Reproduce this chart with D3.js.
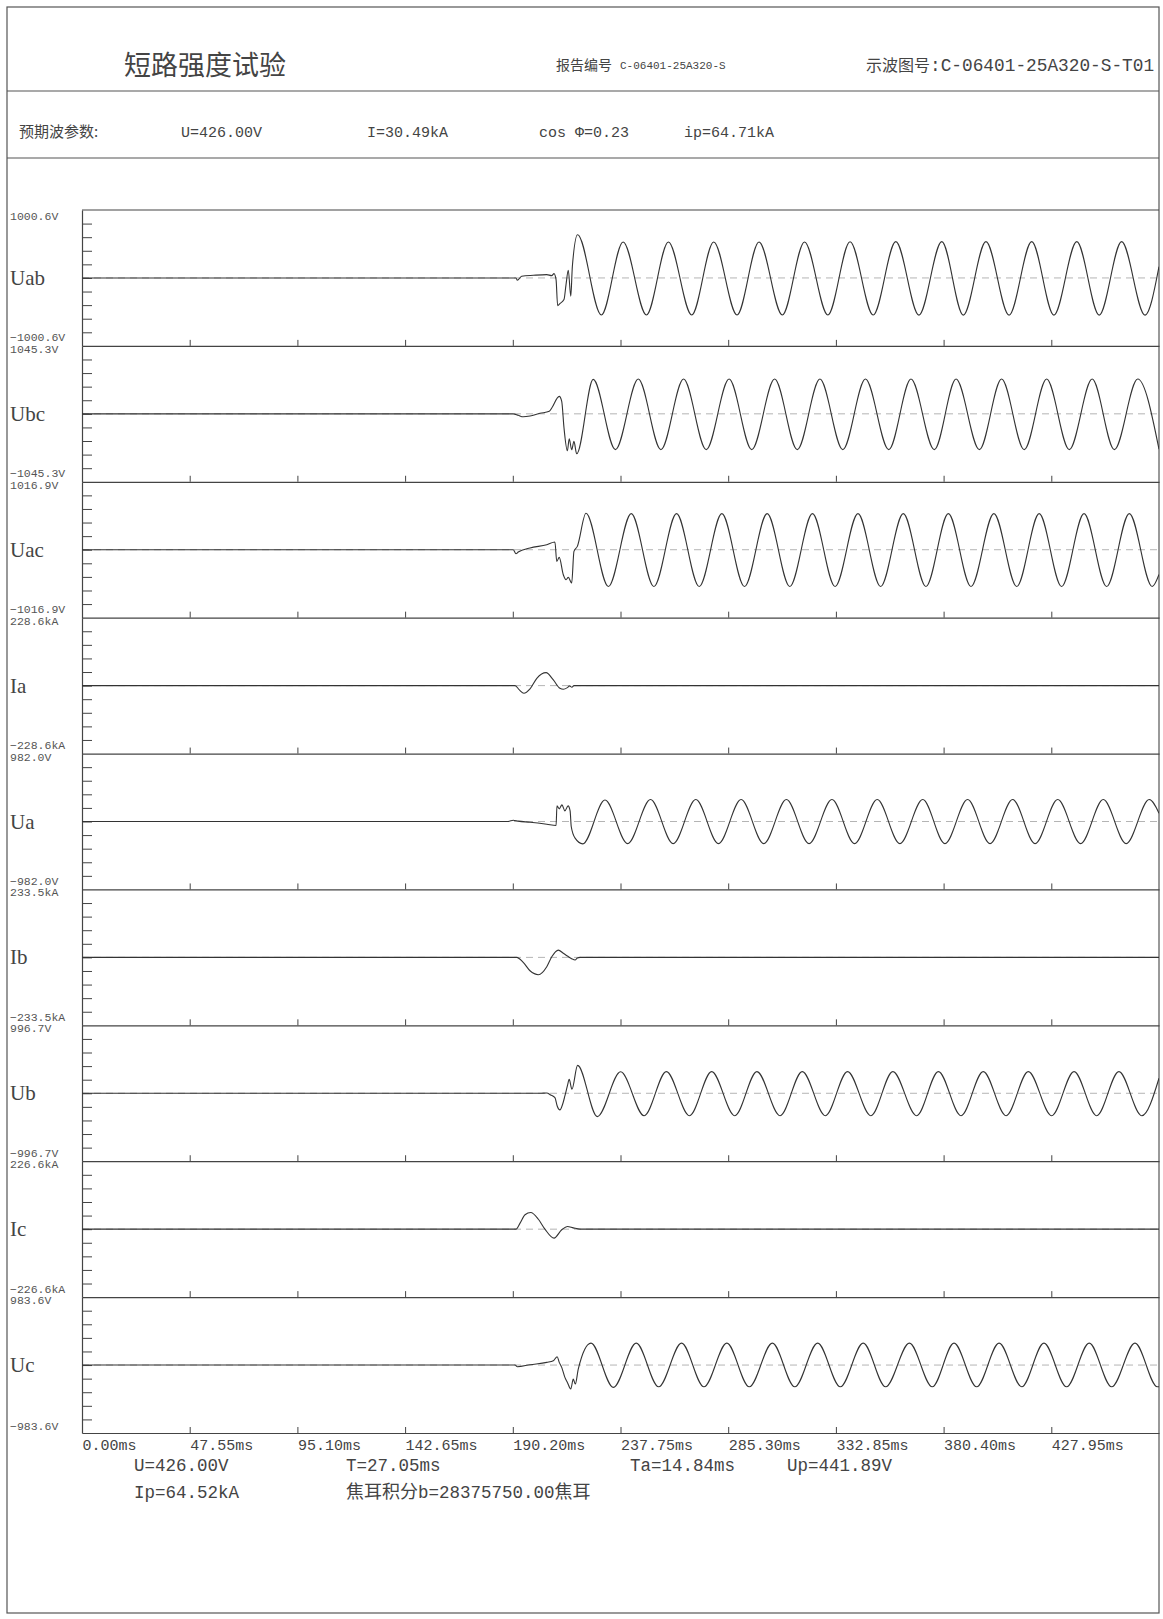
<!DOCTYPE html>
<html>
<head>
<meta charset="utf-8">
<title>短路强度试验</title>
<script src="https://cdn.jsdelivr.net/npm/d3@7"></script>
<style>
  body { margin: 0; background: #fff; }
  svg { display: block; }
  .mono { font-family: "Liberation Mono", "Noto Sans CJK SC", monospace; }
  .cjk { font-family: "Noto Sans CJK SC", sans-serif; }
  .serif { font-family: "Liberation Serif", "DejaVu Serif", serif; }
</style>
</head>
<body>
<div id="chart"></div>
<script>
// Constants
const WIDTH = 1163;
const HEIGHT = 1619;
const FRAME = { LEFT: 7, RIGHT: 1159, TOP: 7, BOTTOM: 1613 };
const PLOT = { LEFT: 82, RIGHT: 1159, TOP: 210, BOTTOM: 1433 };
const INK = '#444';
const TRACE = '#333';

// Header text
const TITLE = '短路强度试验';
const REPORT_LABEL = '报告编号';
const REPORT_NO = 'C-06401-25A320-S';
const WAVE_LABEL = '示波图号';
const WAVE_NO = ':C-06401-25A320-S-T01';
const PROSPECTIVE_LABEL = '预期波参数:';
const PROSPECTIVE = ['U=426.00V', 'I=30.49kA', 'cos Φ=0.23', 'ip=64.71kA'];
const RESULTS_ROW1 = ['U=426.00V', 'T=27.05ms', 'Ta=14.84ms', 'Up=441.89V'];
const RESULTS_ROW2 = ['Ip=64.52kA', '焦耳积分b=28375750.00焦耳'];

// Channels
const CHANNELS = ['Uab', 'Ubc', 'Uac', 'Ia', 'Ua', 'Ib', 'Ub', 'Ic', 'Uc'];
const FULL_SCALE = [1000.6, 1045.3, 1016.9, 228.6, 982.0, 233.5, 996.7, 226.6, 983.6];
const UNITS = ['V', 'V', 'V', 'kA', 'V', 'kA', 'V', 'kA', 'V'];
const TIME_TICKS = [0, 47.55, 95.10, 142.65, 190.20, 237.75, 285.30, 332.85, 380.40, 427.95];
const TIME_END = 475.5;
const GRID_FRACTIONS = [-0.8, -0.6, -0.4, -0.2, 0, 0.2, 0.4, 0.6, 0.8];

// Traces: [ms, value]
const uab = [
  [0, 0], [191.6, 0], [192.2, -34], [194.1, 25], [199.3, 39], [205.2, 49], [207.4, 34], [208.4, 64],
  [209.3, -25], [210.0, -407], [211.0, -377], [212.8, -319], [213.7, -98], [214.7, 113], [215.8, -269],
  [216.5, 172], [218.8, 637], [229.3, -545], [238.9, 530], [249.2, -545], [258.9, 530], [269.2, -545],
  [278.9, 530], [289.2, -545], [298.9, 530], [309.2, -545], [319.0, 530], [329.3, -545], [339.1, 532],
  [349.3, -545], [359.3, 535], [369.5, -548], [379.6, 535], [389.1, -548], [399.1, 535], [409.3, -548],
  [419.3, 535], [429.1, -548], [439.2, 535], [449.1, -548], [459.0, 535], [469.3, -548], [475.5, 166]
];
const ubc = [
  [0, 0], [190.4, 0], [192.6, -23], [194.8, -46], [197.8, -34], [202.2, 8], [206.3, 38], [207.4, 90],
  [210.7, 269], [211.8, 192], [212.8, -215], [214.3, -569], [215.1, -384], [216.2, -553], [217.2, -423],
  [218.4, -615], [225.7, 530], [235.5, -550], [245.6, 535], [255.6, -550], [265.6, 535], [275.6, -550],
  [285.7, 535], [295.7, -550], [305.8, 535], [315.8, -550], [325.8, 535], [335.9, -550], [345.9, 535],
  [356.2, -550], [366.0, 535], [376.3, -550], [385.9, 535], [396.2, -550], [406.0, 535], [416.0, -550],
  [425.9, 535], [435.9, -550], [446.0, 535], [455.8, -550], [466.1, 535], [475.5, -545]
];
const uac = [
  [0, 0], [190.4, 0], [191.6, -60], [192.6, -35], [197.8, 25], [205.2, 75], [208.8, 115], [209.6, -175],
  [210.7, -115], [212.5, -374], [213.7, -449], [214.7, -414], [216.2, -498], [217.2, -25], [218.7, 50],
  [222.5, 545], [232.4, -550], [242.5, 540], [252.5, -550], [262.5, 540], [272.5, -550], [282.5, 540],
  [292.5, -550], [302.5, 540], [312.5, -550], [322.5, 540], [332.5, -550], [342.6, 540], [352.6, -550],
  [362.6, 540], [372.6, -550], [382.5, 540], [392.5, -550], [402.6, 540], [412.7, -550], [422.6, 540],
  [432.5, -550], [442.4, 540], [452.4, -550], [462.4, 540], [472.5, -550], [475.5, -370]
];
const ia = [
  [0, 0], [191.2, 0], [193.1, -14.6], [195.1, -25.8], [197.8, -11], [200.8, 24.6], [204.9, 43.7],
  [208.1, 19], [211.0, -9], [212.5, -12.3], [214.3, -6.7], [215.3, -1], [216.3, -5.6], [217.2, 0],
  [475.5, 0]
];
const ua = [
  [0, 0], [188.2, 0], [190.4, 19], [192.6, 5], [197.8, -10], [205.2, -39], [209.3, -58], [209.7, 226],
  [210.7, 183], [211.9, 241], [213.2, 154], [214.6, 226], [215.5, 154], [216.0, -72], [217.7, -241],
  [221.1, -323], [230.9, 310], [240.9, -320], [251.0, 318], [261.0, -320], [271.0, 318], [281.0, -320],
  [291.0, 318], [301.0, -320], [311.0, 318], [321.0, -320], [331.1, 318], [341.1, -320], [351.1, 318],
  [361.1, -320], [371.2, 318], [381.0, -320], [391.0, 318], [400.9, -320], [410.9, 318], [420.8, -320],
  [430.8, 318], [440.9, -320], [450.9, 318], [461.0, -320], [471.2, 318], [475.5, 120]
];
const ib = [
  [0, 0], [191.9, 0], [194.8, -17], [197.8, -46], [201.5, -59.5], [205.2, -32], [207.4, 2], [210.3, 25],
  [212.5, 14], [214.3, 4.6], [216.2, -4.6], [217.7, -9], [218.7, -2.4], [219.9, 0], [475.5, 0]
];
const ub = [
  [0, 0], [202.2, 0], [205.2, 5], [206.9, -24], [208.8, -64], [209.8, -186], [211.0, -244], [212.2, -161],
  [213.2, -39], [214.3, 108], [215.1, 205], [216.3, 59], [218.8, 410], [227.5, -342], [237.8, 315],
  [248.2, -330], [258.0, 318], [268.2, -330], [278.0, 318], [288.2, -330], [298.0, 318], [308.2, -330],
  [318.0, 318], [328.2, -330], [338.0, 318], [348.3, -330], [358.0, 318], [368.5, -330], [378.1, 318],
  [388.1, -330], [397.9, 318], [408.0, -330], [417.8, 318], [428.1, -330], [438.0, 318], [448.0, -330],
  [457.8, 318], [467.9, -330], [475.5, 220]
];
const ic = [
  [0, 0], [191.6, 0], [193.4, 20], [195.6, 48], [198.1, 55.5], [201.5, 33], [204.4, 0], [208.4, -30],
  [211.8, -2], [214.3, 9], [216.9, 4.4], [219.9, 0], [475.5, 0]
];
const uc = [
  [0, 0], [191.2, 0], [192.2, -24], [197.8, 5], [205.2, 39], [208.1, 63], [209.8, 120], [210.7, 39],
  [211.8, -34], [213.2, -178], [214.3, -251], [215.8, -347], [216.9, -202], [217.8, -275], [219.1, -58],
  [224.7, 318], [234.6, -323], [244.7, 318], [254.6, -315], [264.7, 318], [274.6, -315], [284.7, 318],
  [294.6, -315], [304.8, 318], [314.7, -315], [324.8, 318], [334.8, -315], [344.9, 318], [354.8, -315],
  [365.3, 318], [375.4, -315], [385.0, 318], [395.0, -315], [404.9, 318], [414.9, -315], [424.7, 318],
  [434.7, -315], [444.7, 318], [454.6, -315], [464.9, 318], [474.8, -315], [475.5, -313]
];
const TRACES = [uab, ubc, uac, ia, ua, ib, ub, ic, uc];

const svg = d3.select('#chart')
  .append('svg')
  .attr('width', WIDTH)
  .attr('height', HEIGHT);

drawHeader();
drawPanels();
drawFooter();

// Split a label into CJK and Latin runs so each gets its own face and size
function mixedText(sel, str, cjkSize, latinSize) {
  const runs = str.match(/[\u3000-\u9fff\uff00-\uffef]+|[^\u3000-\u9fff\uff00-\uffef]+/g);
  runs.forEach(run => {
    const isCjk = /[\u3000-\u9fff]/.test(run);
    sel.append('tspan')
      .attr('class', isCjk ? 'cjk' : 'mono')
      .style('font-size', `${isCjk ? cjkSize : latinSize}px`)
      .text(run);
  });
}

function drawHeader() {
  // Page frame and header rules
  svg.append('rect')
    .attr('x', FRAME.LEFT)
    .attr('y', FRAME.TOP)
    .attr('width', FRAME.RIGHT - FRAME.LEFT)
    .attr('height', FRAME.BOTTOM - FRAME.TOP)
    .attr('fill', 'none')
    .attr('stroke', '#555')
    .attr('stroke-width', 1.2);

  [91, 158].forEach(yy => {
    svg.append('line')
      .attr('x1', FRAME.LEFT).attr('x2', FRAME.RIGHT)
      .attr('y1', yy).attr('y2', yy)
      .attr('stroke', '#555')
      .attr('stroke-width', 1.2);
  });

  svg.append('text')
    .attr('class', 'cjk')
    .attr('x', 124).attr('y', 75)
    .attr('fill', INK)
    .style('font-size', '27px')
    .text(TITLE);

  svg.append('text')
    .attr('class', 'cjk')
    .attr('x', 556).attr('y', 70)
    .attr('fill', INK)
    .style('font-size', '14px')
    .text(REPORT_LABEL);

  svg.append('text')
    .attr('class', 'mono')
    .attr('x', 620).attr('y', 69)
    .attr('fill', INK)
    .style('font-size', '11px')
    .text(REPORT_NO);

  const wave = svg.append('text')
    .attr('x', 866).attr('y', 71)
    .attr('fill', INK);
  wave.append('tspan')
    .attr('class', 'cjk')
    .style('font-size', '16px')
    .text(WAVE_LABEL);
  wave.append('tspan')
    .attr('class', 'mono')
    .style('font-size', '17.8px')
    .text(WAVE_NO);

  svg.append('text')
    .attr('class', 'cjk')
    .attr('x', 19).attr('y', 137)
    .attr('fill', INK)
    .style('font-size', '15px')
    .text(PROSPECTIVE_LABEL);

  const prospectiveX = [181, 367, 539, 684];
  svg.selectAll('.prospective')
    .data(PROSPECTIVE)
    .enter()
    .append('text')
    .attr('class', 'mono prospective')
    .attr('x', (d, i) => prospectiveX[i])
    .attr('y', 137)
    .attr('fill', INK)
    .style('font-size', '15px')
    .text(d => d);
}

function drawPanels() {
  const x = d3.scaleLinear().domain([0, TIME_END]).range([PLOT.LEFT, PLOT.RIGHT]);
  const panelH = (PLOT.BOTTOM - PLOT.TOP) / CHANNELS.length;

  svg.append('clipPath')
    .attr('id', 'plot-clip')
    .append('rect')
    .attr('x', PLOT.LEFT).attr('y', PLOT.TOP)
    .attr('width', PLOT.RIGHT - PLOT.LEFT)
    .attr('height', PLOT.BOTTOM - PLOT.TOP);

  // Top rule of the first panel
  svg.append('line')
    .attr('x1', PLOT.LEFT).attr('x2', PLOT.RIGHT)
    .attr('y1', PLOT.TOP).attr('y2', PLOT.TOP)
    .attr('stroke', '#444')
    .attr('stroke-width', 1.2);

  const fmt = d3.format('.1f');

  CHANNELS.forEach((name, i) => {
    const top = PLOT.TOP + i * panelH;
    const bottom = top + panelH;
    const range = FULL_SCALE[i];
    const y = d3.scaleLinear().domain([-range, range]).range([bottom, top]);
    const yFrac = d3.scaleLinear().domain([-1, 1]).range([bottom, top]);
    const g = svg.append('g').attr('class', 'panel');

    // Zero reference
    g.append('line')
      .attr('x1', PLOT.LEFT).attr('x2', PLOT.RIGHT)
      .attr('y1', y(0)).attr('y2', y(0))
      .attr('stroke', '#b4b4b4')
      .attr('stroke-width', 1)
      .attr('stroke-dasharray', '7,5');

    // Left division ticks
    g.append('g')
      .attr('transform', `translate(${PLOT.LEFT},0)`)
      .attr('color', '#444')
      .call(d3.axisRight(yFrac).tickValues(GRID_FRACTIONS).tickSize(10).tickSizeOuter(0).tickFormat(''))
      .call(a => a.select('.domain').attr('stroke-width', 1.2));

    // Bottom time ticks, labelled only under the last panel
    const last = i === CHANNELS.length - 1;
    const xAxis = g.append('g')
      .attr('transform', `translate(0,${bottom})`)
      .attr('color', '#444')
      .call(d3.axisBottom(x).tickValues(TIME_TICKS).tickSize(-6).tickSizeOuter(0)
        .tickFormat(last ? d => d3.format('.2f')(d) + 'ms' : ''));
    xAxis.select('.domain').attr('stroke-width', 1.2);
    xAxis.selectAll('text')
      .attr('class', 'mono')
      .attr('fill', INK)
      .attr('text-anchor', 'start')
      .attr('x', 0)
      .attr('y', 16.5)
      .attr('dy', 0)
      .style('font-size', '15px');

    // Trace
    const line = d3.line()
      .x(d => x(d[0]))
      .y(d => y(d[1]))
      .curve(d3.curveMonotoneX);

    g.append('path')
      .datum(TRACES[i])
      .attr('clip-path', 'url(#plot-clip)')
      .attr('fill', 'none')
      .attr('stroke', TRACE)
      .attr('stroke-width', 1.1)
      .attr('stroke-linejoin', 'round')
      .attr('d', line);

    // Scale labels and channel name
    g.append('text')
      .attr('class', 'mono')
      .attr('x', 10).attr('y', i === 0 ? top + 10 : top + 7)
      .attr('fill', '#555')
      .style('font-size', '11.5px')
      .text(fmt(range) + UNITS[i]);
    g.append('text')
      .attr('class', 'mono')
      .attr('x', 10).attr('y', last ? bottom - 3 : bottom - 4.5)
      .attr('fill', '#555')
      .style('font-size', '11.5px')
      .text(fmt(-range) + UNITS[i]);
    g.append('text')
      .attr('class', 'serif')
      .attr('x', 10).attr('y', y(0) + 7)
      .attr('fill', INK)
      .style('font-size', '21px')
      .text(name);
  });
}

function drawFooter() {
  const row1X = [134, 346, 630, 787];
  svg.selectAll('.result1')
    .data(RESULTS_ROW1)
    .enter()
    .append('text')
    .attr('class', 'mono result1')
    .attr('x', (d, i) => row1X[i])
    .attr('y', 1471)
    .attr('fill', INK)
    .style('font-size', '17.5px')
    .text(d => d);

  const row2X = [134, 346];
  svg.selectAll('.result2')
    .data(RESULTS_ROW2)
    .enter()
    .append('text')
    .attr('class', 'result2')
    .attr('x', (d, i) => row2X[i])
    .attr('y', 1498)
    .attr('fill', INK)
    .each(function(d) { mixedText(d3.select(this), d, 18, 17.5); });
}
</script>
</body>
</html>
